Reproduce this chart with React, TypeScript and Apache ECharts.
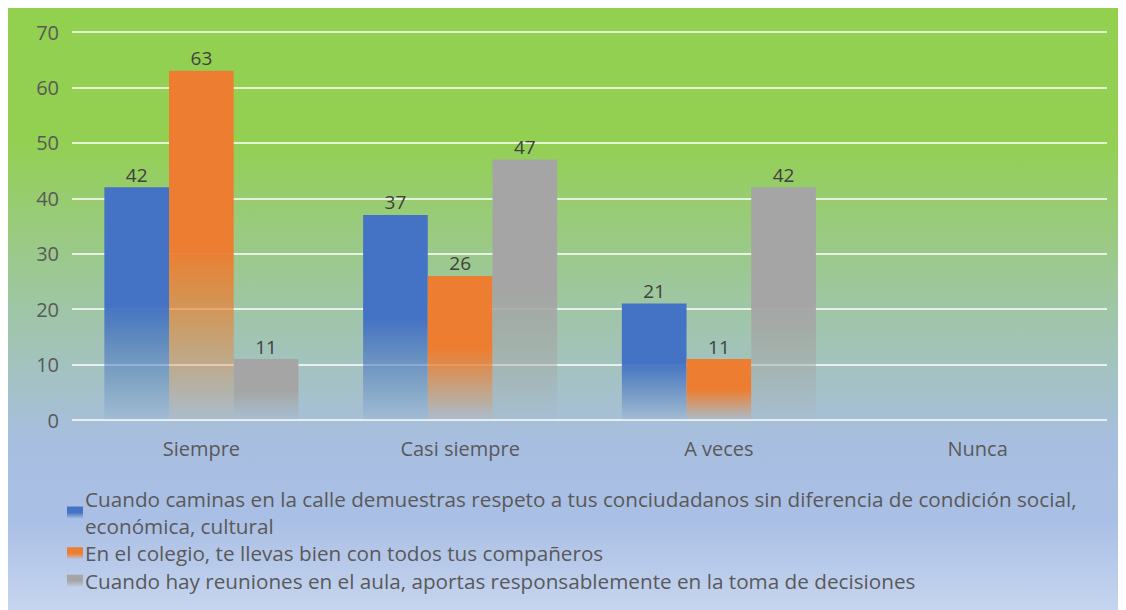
import React, { useEffect, useRef } from "react";
import * as echarts from "echarts";

const categories = ["Siempre", "Casi siempre", "A veces", "Nunca"];
const seriesNames = [
  "Cuando caminas en la calle demuestras respeto a tus conciudadanos sin diferencia de condición social,\neconómica, cultural",
  "En el colegio, te llevas bien con todos tus compañeros",
  "Cuando hay reuniones en el aula, aportas responsablemente en la toma de decisiones",
];
const respetoValues: (number | null)[] = [42, 37, 21, null];
const colegioValues: (number | null)[] = [63, 26, 11, null];
const reunionesValues: (number | null)[] = [11, 47, 42, null];
const seriesColors = ["#4472C4", "#ED7D31", "#A5A5A5"];
const seriesFade = ["rgba(68,114,196,0.05)", "rgba(237,125,49,0.05)", "rgba(165,165,165,0.05)"];
const yTicks = { min: 0, max: 70, interval: 10 };

const FONT = "'Open Sans', 'Noto Sans', sans-serif";

export default function App() {
  const ref = useRef<HTMLDivElement>(null);
  useEffect(() => {
    if (!ref.current) return;
    const chart = echarts.init(ref.current, undefined, { renderer: "svg" });
    const allValues = [respetoValues, colegioValues, reunionesValues];
    chart.setOption({
      animation: false,
      backgroundColor: new echarts.graphic.LinearGradient(0, 0, 0, 1, [
        { offset: 0, color: "#92D050" },
        { offset: 0.22, color: "#93D052" },
        { offset: 0.5, color: "#9FC6A6" },
        { offset: 0.72, color: "#A8BEE0" },
        { offset: 0.85, color: "#AABFE5" },
        { offset: 1, color: "#C6D5EF" },
      ]),
      textStyle: { fontFamily: FONT },
      grid: { left: 64, right: 19, top: 24, bottom: 190 },
      xAxis: {
        type: "category",
        data: categories,
        axisLine: { show: false },
        axisTick: { show: false },
        axisLabel: { color: "#595959", fontSize: 20, margin: 18, fontFamily: FONT },
      },
      yAxis: {
        type: "value",
        min: yTicks.min,
        max: yTicks.max,
        interval: yTicks.interval,
        axisLine: { show: false },
        axisTick: { show: false },
        axisLabel: { color: "#595959", fontSize: 20, margin: 13, fontFamily: FONT },
        splitLine: { lineStyle: { color: "rgba(255,255,255,0.75)", width: 2 } },
      },
      legend: {
        orient: "vertical",
        left: 54,
        top: 473,
        itemWidth: 16,
        itemHeight: 12,
        itemGap: 1,
        icon: "rect",
        textStyle: { color: "#595959", fontSize: 20.7, lineHeight: 26.5, fontFamily: FONT, padding: [0, 0, 0, -3] },
        data: seriesNames,
      },
      series: allValues.map((vals, i) => ({
        name: seriesNames[i],
        type: "bar",
        data: vals,
        barGap: "0%",
        barCategoryGap: "25%",
        itemStyle: {
          color: new echarts.graphic.LinearGradient(0, 0, 0, 1, [
            { offset: 0, color: seriesColors[i] },
            { offset: 0.5, color: seriesColors[i] },
            { offset: 1, color: seriesFade[i] },
          ]),
        },
        label: {
          show: true,
          position: "top",
          distance: 3,
          color: "#404040",
          fontSize: 19,
          fontFamily: FONT,
        },
      })),
    });
    return () => chart.dispose();
  }, []);
  return <div ref={ref} style={{ width: 1118, height: 602 }} />;
}
